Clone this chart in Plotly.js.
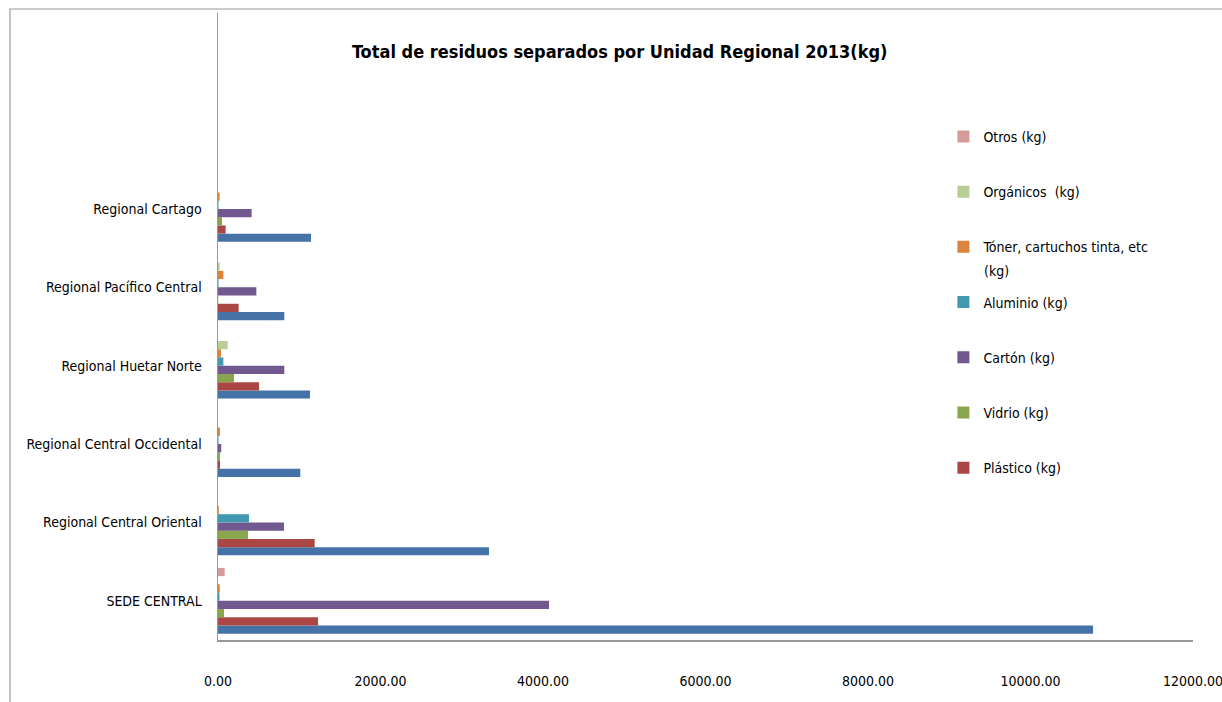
<!DOCTYPE html>
<html>
<head>
<meta charset="utf-8">
<script src="https://cdn.plot.ly/plotly-3.0.1.min.js"></script>
<style>
html,body{margin:0;padding:0;background:#fff;}
#chart{width:1222px;height:702px;}
</style>
</head>
<body>
<div id="chart"></div>
<script>
var categories = ["SEDE CENTRAL","Regional Central Oriental","Regional Central Occidental","Regional Huetar Norte","Regional Pacífico Central","Regional Cartago"];
var seriesNames = ["Papel (kg)","Plástico (kg)","Vidrio (kg)","Cartón (kg)","Aluminio (kg)","Tóner, cartuchos tinta, etc","Orgánicos  (kg)","Otros (kg)"];
var papel     = [10770, 3335, 1013, 1132, 816, 1145];
var plastico  = [1231, 1190, 25, 505, 254, 94];
var vidrio    = [74, 370, 25, 197, 3, 49];
var carton    = [4074, 812, 40, 816, 472, 414];
var aluminio  = [18, 381, 6, 66, 6, 6];
var toner     = [22, 10, 25, 37, 66, 20];
var organicos = [0, 0, 0, 119, 20, 0];
var otros     = [82, 0, 0, 0, 0, 0];
var xTicks = [0, 2000, 4000, 6000, 8000, 10000, 12000];
var colors = ["#4572A7","#AA4643","#89A54E","#71588F","#4198AF","#DB843D","#B9CE97","#D79B9A"];

var values = [papel, plastico, vidrio, carton, aluminio, toner, organicos, otros];
var font = "'DejaVu Sans Condensed', 'Liberation Sans Narrow', 'Arial Narrow', sans-serif";

var traces = values.map(function(v, i){
  return {
    type: 'bar', orientation: 'h',
    x: v, y: categories, name: seriesNames[i],
    legendgroup: 'g' + i,
    legendrank: 100 - i,
    showlegend: i !== 0,
    marker: {color: colors[i], line: {width: 0}},
    hoverinfo: 'x+name'
  };
});

var layout = {
  width: 1222, height: 702,
  paper_bgcolor: '#fff', plot_bgcolor: '#fff',
  margin: {l: 218, r: 29, t: 13, b: 62},
  barmode: 'group', bargap: 0.16, bargroupgap: 0,
  font: {family: font, size: 14, color: '#000'},
  title: {
    text: '<b>Total de residuos separados por Unidad Regional 2013(kg)</b>',
    font: {family: font, size: 18, color: '#000'},
    xref: 'paper', x: 0.412, xanchor: 'center',
    yref: 'container', y: 0.926, yanchor: 'middle'
  },
  xaxis: {
    range: [0, 12000],
    tickvals: xTicks,
    tickformat: '.2f',
    showgrid: false, zeroline: false,
    showline: true, linecolor: '#999', linewidth: 1.5,
    ticks: '', ticklen: 0,
    ticklabelstandoff: 28,
    ticklabeloverflow: 'allow',
    tickfont: {family: font, size: 14, color: '#000'},
    automargin: false
  },
  yaxis: {
    type: 'category',
    categoryorder: 'array', categoryarray: categories,
    range: [-0.5, 7.5],
    showgrid: false, zeroline: false,
    showline: true, linecolor: '#999', linewidth: 1.5,
    ticks: '', ticklabelstandoff: 12,
    tickfont: {family: font, size: 14, color: '#000'},
    automargin: false
  },
  legend: {
    x: 0.744, xanchor: 'left',
    y: 0.828, yanchor: 'top',
    traceorder: 'grouped',
    tracegroupgap: 34,
    bgcolor: 'rgba(0,0,0,0)',
    font: {family: font, size: 14, color: '#000'}
  },
  annotations: [{
    xref: 'paper', yref: 'paper',
    x: 0.784, y: (640 - 271) / 627,
    xanchor: 'left', yanchor: 'middle',
    text: '(kg)', showarrow: false,
    font: {family: font, size: 14, color: '#000'}
  }],
  shapes: [{
    type: 'rect', xref: 'paper', yref: 'paper',
    x0: (10 - 218) / 975, x1: 1.1, y0: -0.2, y1: (640 - 9) / 627,
    line: {color: '#999', width: 1.2}, fillcolor: 'rgba(0,0,0,0)', layer: 'below'
  }]
};

Plotly.newPlot('chart', traces, layout, {displayModeBar: false, staticPlot: true});
</script>
</body>
</html>
